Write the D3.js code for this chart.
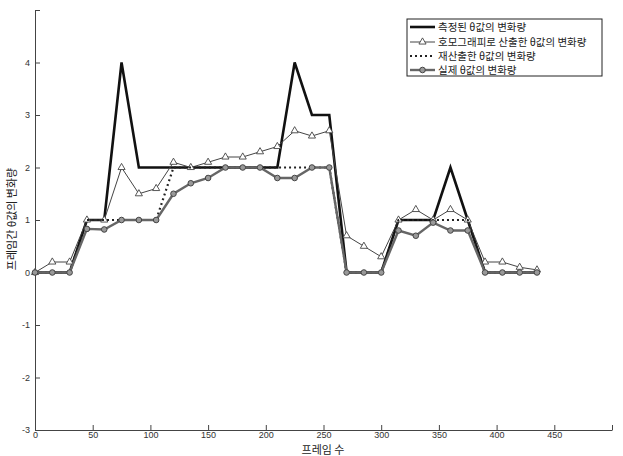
<!DOCTYPE html>
<html><head><meta charset="utf-8">
<script src="https://cdn.jsdelivr.net/npm/d3@7"></script>
<style>body{margin:0;background:#fff}svg{display:block}</style>
</head><body>
<svg id="c" width="623" height="456"></svg>
<script>
const frames = [0,15,30,45,60,75,90,105,120,135,150,165,180,195,210,225,240,255,270,285,300,315,330,345,360,375,390,405,420,435];
const measured   = [0,0,0,1,1,4,2,2,2,2,2,2,2,2,2,4,3,3,0,0,0,1,1,1,2,1,0,0,0,0];
const homography = [0,0.2,0.2,1,1,2,1.5,1.6,2.1,2,2.1,2.2,2.2,2.3,2.4,2.7,2.6,2.7,0.7,0.5,0.3,1,1.2,1,1.2,1,0.2,0.2,0.1,0.05];
const recomputed = [0,0,0,1,1,1,1,1,2,2,2,2,2,2,2,2,2,2,0,0,0,1,1,1,1,1,0,0,0,0];
const actual     = [0,0,0,0.83,0.82,1,1,1,1.5,1.7,1.8,2,2,2,1.8,1.8,2,2,0,0,0,0.8,0.7,0.95,0.8,0.8,0,0,0,0];
const xTicks = [0,50,100,150,200,250,300,350,400,450,500];
const yTicks = [-3,-2,-1,0,1,2,3,4,5];
const legendLabels = ["측정된 θ값의 변화량","호모그래피로 산출한 θ값의 변화량","재산출한 θ값의 변화량","실제 θ값의 변화량"];
const xLabel = "프레임 수";
const yLabel = "프레임간 θ값의 변화량";

const svg = d3.select("#c");
const x = d3.scaleLinear().domain([0,500]).range([35,612]);
const y = d3.scaleLinear().domain([-3,5]).range([430,10]);
const font = "'Liberation Sans', Arial, sans-serif";
const kfont = "'Noto Sans CJK KR', sans-serif";

// axes
const xAxis = svg.append("g").attr("transform","translate(0,430)")
  .call(d3.axisBottom(x).tickValues(xTicks).tickSizeInner(-5).tickSizeOuter(0).tickPadding(2)
    .tickFormat(d => d===500 ? "" : d));
const yAxis = svg.append("g").attr("transform","translate(35,0)")
  .call(d3.axisLeft(y).tickValues(yTicks).tickSizeInner(-5).tickSizeOuter(0).tickPadding(5)
    .tickFormat(d => d===5 ? "" : d));
[xAxis,yAxis].forEach(g=>{
  g.select(".domain").attr("stroke","#444").attr("stroke-width",1);
  g.selectAll(".tick line").attr("stroke","#444");
  g.selectAll(".tick text").attr("font-family",font).attr("font-size",9).attr("fill","#333");
});

svg.append("text").attr("x",323).attr("y",454).attr("text-anchor","middle")
  .attr("font-family",kfont).attr("font-size",11).attr("fill","#222").text(xLabel);
svg.append("text").attr("transform","translate(16,219) rotate(-90)").attr("text-anchor","middle")
  .attr("font-family",kfont).attr("font-size",11).attr("fill","#222").text(yLabel);

const line = d3.line().x((d,i)=>x(frames[i])).y(d=>y(d));

// measured
svg.append("path").attr("d",line(measured)).attr("fill","none").attr("stroke","#111").attr("stroke-width",2.6).attr("stroke-linejoin","miter");
// homography
svg.append("path").attr("d",line(homography)).attr("fill","none").attr("stroke","#444").attr("stroke-width",1);
const tri = d3.symbol().type(d3.symbolTriangle).size(22);
svg.append("g").selectAll("path").data(homography).join("path")
  .attr("d",tri).attr("transform",(d,i)=>`translate(${x(frames[i])},${y(d)})`)
  .attr("fill","#fff").attr("stroke","#444").attr("stroke-width",0.9);
// recomputed
svg.append("path").attr("d",line(recomputed)).attr("fill","none").attr("stroke","#222").attr("stroke-width",2.2).attr("stroke-dasharray","2,3");
// actual
svg.append("path").attr("d",line(actual)).attr("fill","none").attr("stroke","#666").attr("stroke-width",2.4);
svg.append("g").selectAll("circle").data(actual).join("circle")
  .attr("cx",(d,i)=>x(frames[i])).attr("cy",d=>y(d)).attr("r",2.8)
  .attr("fill","#999").attr("stroke","#444").attr("stroke-width",1);

// legend
const lg = svg.append("g");
lg.append("rect").attr("x",407).attr("y",19).attr("width",195).attr("height",57)
  .attr("fill","#fff").attr("stroke","#222").attr("stroke-width",1);
const rowsY = [27,42,56,70];
legendLabels.forEach((t,i)=>{
  const ry = rowsY[i];
  const ln = lg.append("line").attr("x1",410).attr("x2",435).attr("y1",ry).attr("y2",ry);
  if(i===0) ln.attr("stroke","#111").attr("stroke-width",2.6);
  if(i===1){ ln.attr("stroke","#444").attr("stroke-width",1);
    lg.append("path").attr("d",tri).attr("transform",`translate(422.5,${ry})`).attr("fill","#fff").attr("stroke","#444").attr("stroke-width",0.9); }
  if(i===2) ln.attr("stroke","#222").attr("stroke-width",2.2).attr("stroke-dasharray","2,3");
  if(i===3){ ln.attr("stroke","#666").attr("stroke-width",2.4);
    lg.append("circle").attr("cx",422.5).attr("cy",ry).attr("r",2.8).attr("fill","#999").attr("stroke","#444"); }
  lg.append("text").attr("x",438).attr("y",ry+4).attr("font-family",kfont).attr("font-size",10.5)
    .attr("fill","#222").text(t);
});
</script>
</body></html>
